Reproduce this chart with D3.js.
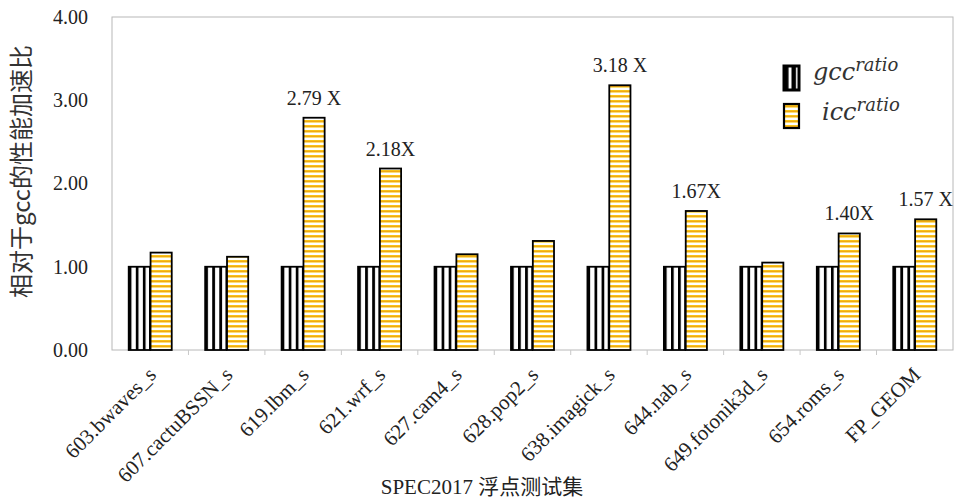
<!DOCTYPE html>
<html>
<head>
<meta charset="utf-8">
<script src="https://cdn.jsdelivr.net/npm/d3@7"></script>
<style>
  body { margin: 0; background: #fff; }
</style>
</head>
<body>
<div id="container"></div>
<script>
let w = 959;
let h = 500;

// data
let categories = ["603.bwaves_s", "607.cactuBSSN_s", "619.lbm_s", "621.wrf_s", "627.cam4_s",
  "628.pop2_s", "638.imagick_s", "644.nab_s", "649.fotonik3d_s", "654.roms_s", "FP_GEOM"];
let gccRatio = [1.00, 1.00, 1.00, 1.00, 1.00, 1.00, 1.00, 1.00, 1.00, 1.00, 1.00];
let iccRatio = [1.17, 1.12, 2.79, 2.18, 1.15, 1.31, 3.18, 1.67, 1.05, 1.40, 1.57];
let iccLabels = ["", "", "2.79 X", "2.18X", "", "", "3.18 X", "1.67X", "", "1.40X", "1.57 X"];
let yTicks = [0, 1, 2, 3, 4];
let seriesNames = ["gcc", "icc"];

let plotLeft = 112, plotRight = 953, plotTop = 17, plotBottom = 350;
let serif = "'Liberation Serif', 'Times New Roman', serif";
let cjk = "'Noto Sans CJK SC', sans-serif";

let viz = d3.select("#container")
  .append("svg")
    .attr("width", w)
    .attr("height", h)
    .style("background-color", "white");

let defs = viz.append("defs");

// vertical black stripes for gcc
let gccPat = defs.append("pattern")
  .attr("id", "gccPat")
  .attr("patternUnits", "objectBoundingBox")
  .attr("patternContentUnits", "objectBoundingBox")
  .attr("width", 1 / 3).attr("height", 1);
gccPat.append("rect").attr("width", 1 / 3).attr("height", 1).attr("fill", "white");
gccPat.append("rect").attr("width", 0.13).attr("height", 1).attr("fill", "black");

let gccLegPat = defs.append("pattern")
  .attr("id", "gccLegPat")
  .attr("patternUnits", "objectBoundingBox")
  .attr("patternContentUnits", "objectBoundingBox")
  .attr("width", 0.5).attr("height", 1);
gccLegPat.append("rect").attr("width", 0.5).attr("height", 1).attr("fill", "white");
gccLegPat.append("rect").attr("width", 0.3).attr("height", 1).attr("fill", "black");

// horizontal yellow / orange stripes for icc
let iccPat = defs.append("pattern")
  .attr("id", "iccPat")
  .attr("patternUnits", "userSpaceOnUse")
  .attr("width", 10).attr("height", 5);
iccPat.append("rect").attr("width", 10).attr("height", 5).attr("fill", "white");
iccPat.append("rect").attr("y", 0).attr("width", 10).attr("height", 2.6).attr("fill", "#f9cc1c");
iccPat.append("rect").attr("y", 0.8).attr("width", 10).attr("height", 1).attr("fill", "#f0a010");

let xScale = d3.scaleBand()
  .domain(categories)
  .range([plotLeft, plotRight])
  .paddingInner(0.42)
  .paddingOuter(0.21);

let xSub = d3.scaleBand()
  .domain(seriesNames)
  .range([0, xScale.bandwidth()])
  .padding(0.03);

let yScale = d3.scaleLinear().domain([0, 4]).range([plotBottom, plotTop]);

// plot frame
viz.append("rect")
  .attr("x", plotLeft).attr("y", plotTop)
  .attr("width", plotRight - plotLeft).attr("height", plotBottom - plotTop)
  .attr("fill", "none")
  .attr("stroke", "#b8b8b8")
  .attr("stroke-width", 1);

// small ticks between groups
let step = xScale.step();
let boundaries = categories.slice(1).map(function(d){ return xScale(d) - xScale.paddingInner() * step / 2; });
viz.append("g").selectAll("line")
  .data(boundaries)
  .enter().append("line")
    .attr("x1", function(d){ return d; })
    .attr("x2", function(d){ return d; })
    .attr("y1", plotBottom)
    .attr("y2", plotBottom + 5)
    .attr("stroke", "#c8c8c8");

// y axis labels
let yAxis = d3.axisLeft(yScale).tickValues(yTicks).tickFormat(d3.format(".2f")).tickSize(0).tickPadding(24);
let yAxisGroup = viz.append("g").attr("class", "yaxis")
  .attr("transform", "translate(" + plotLeft + ",0)")
  .call(yAxis);
yAxisGroup.select(".domain").remove();
yAxisGroup.selectAll("text")
  .style("font-family", serif)
  .style("font-size", "20px")
  .attr("fill", "#222");

// x axis labels
let xAxis = d3.axisBottom(xScale).tickSize(0).tickPadding(0);
let xAxisGroup = viz.append("g").attr("class", "xaxis")
  .attr("transform", "translate(0," + plotBottom + ")")
  .call(xAxis);
xAxisGroup.select(".domain").remove();
xAxisGroup.selectAll("text")
  .attr("dy", null)
  .attr("y", null)
  .attr("transform", "translate(7,26) rotate(-45)")
  .attr("text-anchor", "end")
  .style("font-family", serif)
  .style("font-size", "21px")
  .attr("fill", "#222");

// bars
let groups = viz.append("g").selectAll("g")
  .data(categories)
  .enter().append("g")
    .attr("transform", function(d){ return "translate(" + xScale(d) + ",0)"; });

groups.append("rect")
  .attr("x", xSub("gcc"))
  .attr("width", xSub.bandwidth())
  .attr("y", function(d, i){ return yScale(gccRatio[i]); })
  .attr("height", function(d, i){ return yScale(0) - yScale(gccRatio[i]); })
  .attr("fill", "url(#gccPat)")
  .attr("stroke", "black")
  .attr("stroke-width", 1.8);

groups.append("rect")
  .attr("x", xSub("icc"))
  .attr("width", xSub.bandwidth())
  .attr("y", function(d, i){ return yScale(iccRatio[i]); })
  .attr("height", function(d, i){ return yScale(0) - yScale(iccRatio[i]); })
  .attr("fill", "url(#iccPat)")
  .attr("stroke", "black")
  .attr("stroke-width", 1.8);

groups.append("text")
  .attr("x", xSub("icc") + xSub.bandwidth() / 2)
  .attr("y", function(d, i){ return yScale(iccRatio[i]) - 13; })
  .attr("text-anchor", "middle")
  .style("font-family", serif)
  .style("font-size", "20px")
  .attr("fill", "#222")
  .text(function(d, i){ return iccLabels[i]; });

// legend
let legend = viz.append("g").attr("class", "legend");
legend.append("rect")
  .attr("x", 784).attr("y", 66).attr("width", 15).attr("height", 24)
  .attr("fill", "url(#gccLegPat)").attr("stroke", "black").attr("stroke-width", 3);
legend.append("rect")
  .attr("x", 784).attr("y", 104).attr("width", 15).attr("height", 24)
  .attr("fill", "url(#iccPat)").attr("stroke", "black").attr("stroke-width", 2.2);

let legText1 = legend.append("text")
  .attr("x", 813).attr("y", 80)
  .style("font-family", "'DejaVu Serif', serif")
  .style("font-style", "italic")
  .style("font-size", "24px")
  .attr("fill", "#333");
legText1.append("tspan").text("gcc");
legText1.append("tspan").attr("dy", -9).style("font-size", "18px").text("ratio");

let legText2 = legend.append("text")
  .attr("x", 822).attr("y", 120)
  .style("font-family", "'DejaVu Serif', serif")
  .style("font-style", "italic")
  .style("font-size", "24px")
  .attr("fill", "#333");
legText2.append("tspan").text("icc");
legText2.append("tspan").attr("dy", -9).style("font-size", "18px").text("ratio");

// axis titles
viz.append("text")
  .attr("transform", "translate(30," + ((plotTop + plotBottom) / 2 - 12) + ") rotate(-90)")
  .attr("text-anchor", "middle")
  .style("font-family", cjk)
  .style("font-size", "24px")
  .attr("fill", "#333")
  .text("相对于gcc的性能加速比");

let xTitle = viz.append("text")
  .attr("x", 482).attr("y", 494)
  .attr("text-anchor", "middle")
  .style("font-size", "21px")
  .attr("fill", "#222");
xTitle.append("tspan").style("font-family", serif).text("SPEC2017 ");
xTitle.append("tspan").style("font-family", cjk).text("浮点测试集");
</script>
</body>
</html>
